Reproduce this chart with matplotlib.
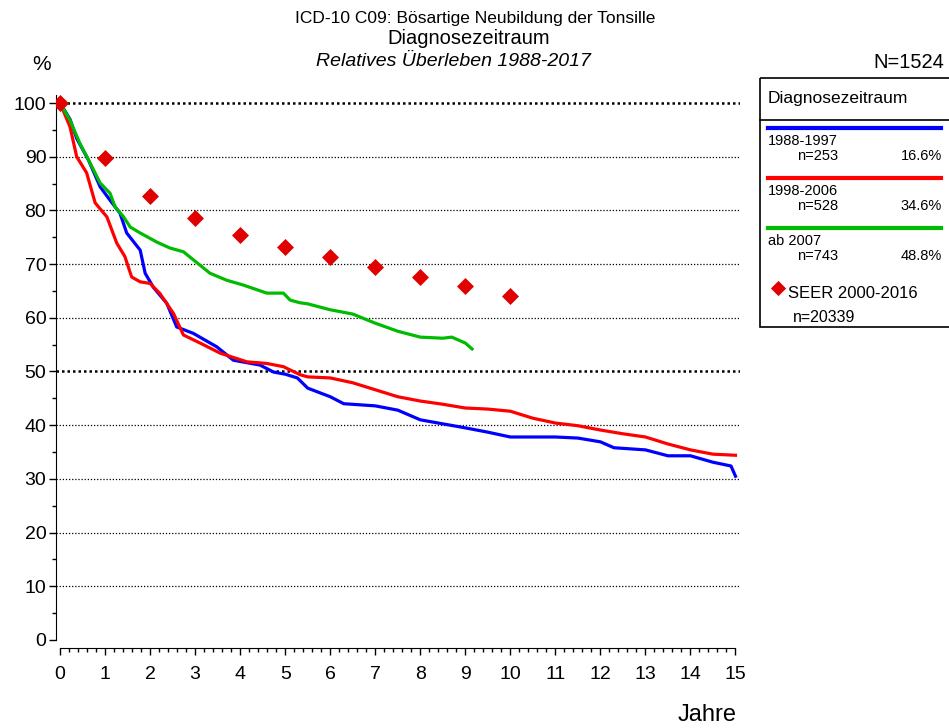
import numpy as np
import matplotlib
matplotlib.use("Agg")
import matplotlib.pyplot as plt
from matplotlib.lines import Line2D
from matplotlib.patches import Rectangle

plt.rcParams['font.family'] = ['Liberation Sans', 'DejaVu Sans']

# --- data ---
t_blue = [0, 0.22, 0.37, 0.63, 0.89, 1.11, 1.33, 1.48, 1.78, 1.89, 2.07, 2.37, 2.59, 2.96,
          3.48, 3.85, 4.44, 4.74, 5.0, 5.27, 5.5, 6.0, 6.3, 7.0, 7.5, 8.0, 9.0, 9.5, 10.0,
          11.0, 11.5, 12.0, 12.3, 13.0, 13.5, 14.0, 14.5, 14.9, 15.0]
v_blue = [100, 97, 93.4, 89.4, 84.4, 81.9, 79.5, 75.8, 72.6, 68.3, 65.7, 62.7, 58.3, 57.1,
          54.6, 52.1, 51.2, 49.9, 49.5, 48.8, 46.9, 45.3, 44.0, 43.6, 42.8, 41.0, 39.5, 38.7, 37.8,
          37.8, 37.6, 36.9, 35.8, 35.4, 34.3, 34.3, 33.1, 32.4, 30.5]

t_red = [0, 0.22, 0.37, 0.59, 0.78, 1.04, 1.26, 1.44, 1.59, 1.78, 2.0, 2.22, 2.52, 2.74,
         3.11, 3.56, 4.15, 4.59, 4.96, 5.33, 5.5, 6.0, 6.5, 7.0, 7.5, 8.0, 8.5, 9.0, 9.5,
         10.0, 10.5, 11.0, 11.5, 12.0, 12.5, 13.0, 13.5, 14.0, 14.5, 15.0]
v_red = [100, 95.6, 90, 87, 81.4, 78.8, 73.9, 71.4, 67.6, 66.7, 66.4, 64.5, 60.8, 56.8,
         55.3, 53.4, 51.8, 51.5, 50.9, 49.4, 49.0, 48.8, 47.9, 46.6, 45.3, 44.5, 43.9, 43.2, 43.0,
         42.6, 41.3, 40.4, 39.9, 39.1, 38.4, 37.8, 36.5, 35.4, 34.6, 34.4]

t_green = [0, 0.22, 0.44, 0.67, 0.89, 1.11, 1.22, 1.41, 1.56, 1.78, 2.15, 2.44, 2.74, 2.96,
           3.33, 3.70, 4.07, 4.59, 4.96, 5.11, 5.33, 5.5, 6.0, 6.5, 7.0, 7.3, 7.5, 8.0, 8.5,
           8.7, 9.0, 9.15]
v_green = [100, 96.8, 92.5, 88.8, 85.1, 83.2, 80.7, 78.8, 76.9, 75.8, 74.1, 73.0, 72.3, 70.8,
           68.3, 67.0, 66.1, 64.6, 64.6, 63.3, 62.8, 62.6, 61.5, 60.7, 59.0, 58.1, 57.5, 56.4, 56.2,
           56.4, 55.3, 54.2]

seer_t = [0, 1, 2, 3, 4, 5, 6, 7, 8, 9, 10]
seer_v = [100, 89.8, 82.7, 78.6, 75.4, 73.2, 71.3, 69.5, 67.6, 65.9, 64.1]

groups = ['1988-1997', '1998-2006', 'ab 2007']
counts = ['n=253', 'n=528', 'n=743']
shares = ['16.6%', '34.6%', '48.8%']
colors = ['#0000ff', '#ff0000', '#00bb00']
seer_color = '#e00000'

W, H = 949, 728
fig = plt.figure(figsize=(W / 100, H / 100), dpi=100)

# axes placed in pixel terms of the reference
x0, x1 = 56, 740
y0, y1 = 648, 95
ax = fig.add_axes([x0 / W, 1 - y0 / H, (x1 - x0) / W, (y0 - y1) / H])
ax.set_xlim(-0.09, 15.1)
ax.set_ylim(-1.5, 101.5)

for y in range(10, 101, 10):
    if y in (50, 100):
        ax.axhline(y, color='black', lw=1.8, ls=(0, (1, 1.2)), zorder=1)
    else:
        ax.axhline(y, color='black', lw=0.9, ls=(0, (1, 1.5)), zorder=1)

for tt, vv, c in zip([t_blue, t_red, t_green], [v_blue, v_red, v_green], colors):
    ax.plot(tt, vv, color=c, lw=2.3, zorder=3, solid_joinstyle='round')

ax.scatter(seer_t, seer_v, marker='D', s=75, color=seer_color, zorder=4, linewidths=0)

for s in ['top', 'right']:
    ax.spines[s].set_visible(False)
ax.spines['left'].set_bounds(0, 101.5)
ax.spines['bottom'].set_bounds(0, 15)
ax.set_xticks(range(0, 16))
ax.set_xticks(np.arange(0, 15.01, 0.2), minor=True)
ax.set_yticks(range(0, 101, 10))
ax.set_yticks(range(5, 100, 10), minor=True)
ax.tick_params(axis='both', which='major', labelsize=14, length=5, width=1)
ax.tick_params(axis='both', which='minor', length=3, width=1)
ax.tick_params(axis='x', pad=8)
ax.tick_params(axis='y', pad=2)

# overlay in pixel coordinates for titles and the legend box
ov = fig.add_axes([0, 0, 1, 1])
ov.set_xlim(0, W)
ov.set_ylim(H, 0)
ov.axis('off')

ov.text(475, 18, 'ICD-10 C09: Bösartige Neubildung der Tonsille', ha='center', va='center', fontsize=12.5)
ov.text(469, 39, 'Diagnosezeitraum', ha='center', va='center', fontsize=14.5)
ov.text(453, 61, 'Relatives Überleben 1988-2017', ha='center', va='center', fontsize=14, style='italic')
ov.text(42, 65, '%', ha='center', va='center', fontsize=15)
ov.text(873, 62, 'N=1524', ha='left', va='center', fontsize=14.5)
ov.text(707, 715, 'Jahre', ha='center', va='center', fontsize=17)

ov.add_patch(Rectangle((760, 78), 200, 249, fill=False, edgecolor='black', lw=1.2))
ov.add_line(Line2D([760, 949], [120, 120], color='black', lw=1.2))
ov.text(768, 99, 'Diagnosezeitraum', ha='left', va='center', fontsize=12.5)

for i, (g, n, p, c) in enumerate(zip(groups, counts, shares, colors)):
    yb = 128 + 50 * i
    ov.add_line(Line2D([768, 941], [yb, yb], color=c, lw=3))
    ov.text(768, yb + 13, g, ha='left', va='center', fontsize=10.5)
    ov.text(797, yb + 28, n, ha='left', va='center', fontsize=10.5)
    ov.text(942, yb + 28, p, ha='right', va='center', fontsize=10.5)

ov.scatter([778], [288], marker='D', s=60, color=seer_color, linewidths=0)
ov.text(788, 294, 'SEER 2000-2016', ha='left', va='center', fontsize=12)
ov.text(793, 318, 'n=20339', ha='left', va='center', fontsize=11.5)

fig.savefig('out.png', dpi=100)
